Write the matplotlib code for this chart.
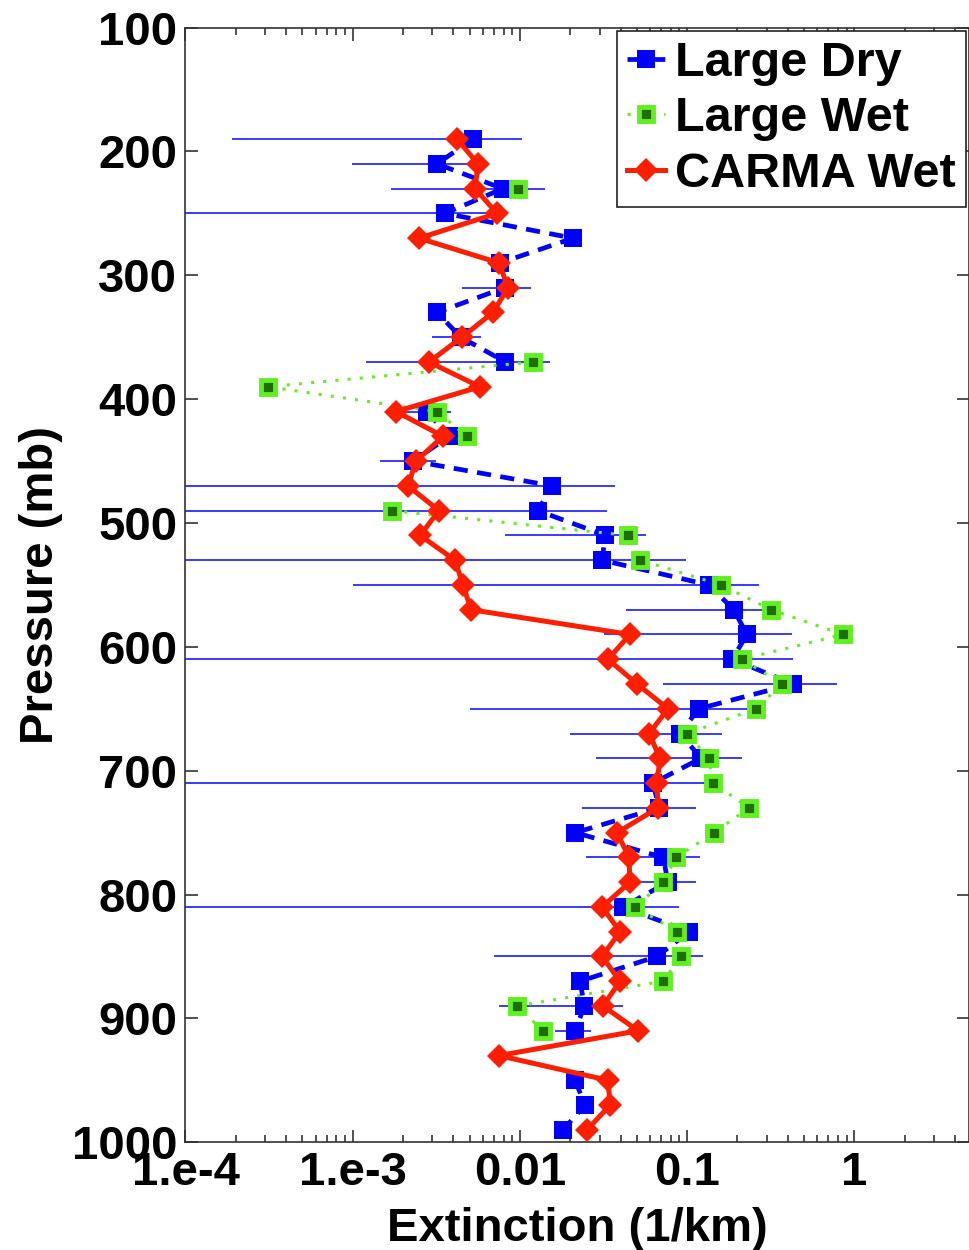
import numpy as np
import matplotlib
matplotlib.use("Agg")
from matplotlib import pyplot as plt

nan = np.nan

# pressure levels (mb)
pressure = [190, 210, 230, 250, 270, 290, 310, 330, 350, 370,
            390, 410, 430, 450, 470, 490, 510, 530, 550, 570,
            590, 610, 630, 650, 670, 690, 710, 730, 750, 770,
            790, 810, 830, 850, 870, 890, 910, 930, 950, 970, 990]

# extinction (1/km)
large_dry = [0.00524, 0.00319, 0.0079, 0.00356, 0.0208, 0.0076, 0.0081, 0.00319, 0.00444, 0.0082,
             nan, 0.00278, 0.00377, 0.0023, 0.0156, 0.0128, 0.0324, 0.031, 0.135, 0.19,
             0.228, 0.186, 0.43, 0.117, 0.091, 0.121, 0.0625, 0.068, 0.0214, 0.072,
             0.0768, 0.0414, 0.1026, 0.066, 0.0229, 0.0243, 0.0214, nan, 0.0214, 0.0245, 0.0181]
large_dry_err = [0.00505, 0.0022, 0.0062, 0.0038, nan, nan, 0.0036, nan, 0.00145, 0.0070,
                 nan, 0.0011, 0.00074, 0.00085, 0.0215, 0.0204, 0.0242, 0.0675, 0.134, 0.147,
                 0.196, 0.244, 0.358, 0.112, 0.071, 0.0925, 0.080, 0.0444, nan, 0.047,
                 0.036, 0.048, nan, 0.059, nan, 0.0168, 0.0052, nan, nan, nan, nan]
large_wet = [nan, nan, 0.00974, nan, nan, nan, nan, nan, nan, 0.0120,
             0.000311, 0.00319, 0.00483, nan, nan, 0.00172, 0.0443, 0.0525, 0.1595, 0.318,
             0.856, 0.213, 0.369, 0.258, 0.0999, 0.135, 0.143, 0.235, 0.145, 0.0858,
             0.0718, 0.0488, 0.087, 0.0919, 0.0718, 0.0096, 0.01375, nan, nan, nan, nan]
carma_wet = [0.0042, 0.00562, 0.00539, 0.0073, 0.00249, 0.0075, 0.00849, 0.0069, 0.0045, 0.00286,
             0.00577, 0.001815, 0.00347, 0.00239, 0.00214, 0.00328, 0.00253, 0.00409, 0.00457, 0.0051,
             0.0455, 0.03365, 0.0502, 0.0769, 0.0592, 0.0689, 0.066, 0.067, 0.0381, 0.0449,
             0.0455, 0.031, 0.0397, 0.031, 0.0397, 0.0314, 0.0509, 0.0075, 0.0337, 0.0346, 0.0252]

x_ticks = [1e-4, 1e-3, 1e-2, 1e-1, 1]
x_ticklabels = ["1.e-4", "1.e-3", "0.01", "0.1", "1"]
y_ticks = list(range(100, 1001, 100))

plt.rcParams['font.family'] = ['Liberation Sans', 'DejaVu Sans']
plt.rcParams['font.weight'] = 'bold'

fig = plt.figure(figsize=(9.69, 12.5), dpi=100)
ax = fig.add_axes([0.1914, 0.0862, 0.8086, 0.8917])

ax.errorbar(large_dry, pressure, xerr=large_dry_err, fmt='none',
            ecolor='#2b2bff', elinewidth=1.3, capsize=0, zorder=1)
ax.plot(large_dry, pressure, color='#0000ff', lw=3.4, linestyle=(0, (3, 2)),
        marker='s', markersize=12.5, markeredgewidth=0, zorder=2, label='Large Dry')
ax.plot(large_wet, pressure, color='#66ee22', lw=2.2, linestyle=(0, (1, 3)),
        marker='s', markersize=9.5, markerfacecolor='#226b08',
        markeredgecolor='#5ff01e', markeredgewidth=3.5, zorder=3, label='Large Wet')
ax.plot(carma_wet, pressure, color='#ff1e00', lw=3.6,
        marker='D', markersize=12.5, markeredgewidth=0, zorder=4, label='CARMA Wet')

ax.set_xscale('log')
ax.set_xlim(1e-4, 4.85)
ax.set_ylim(1000, 100)
ax.set_xticks(x_ticks)
ax.set_xticklabels(x_ticklabels)
ax.set_yticks(y_ticks)

for sp in ax.spines.values():
    sp.set_color('#333333')
    sp.set_linewidth(1.2)

ax.tick_params(which='both', direction='in', top=True, right=True,
               labelsize=34, color='#333333', width=1.2)
ax.tick_params(which='major', length=9, pad=6)
ax.tick_params(which='minor', length=5)
for lbl in ax.get_xticklabels() + ax.get_yticklabels():
    lbl.set_fontweight('bold')

ax.set_xlabel("Extinction (1/km)", fontsize=34, fontweight='bold', labelpad=9)
ax.set_ylabel("Pressure (mb)", fontsize=34, fontweight='bold', labelpad=6)

leg = ax.legend(loc='upper right', fontsize=35, handlelength=0.8,
                handletextpad=0.2, borderpad=0.2, labelspacing=0.22,
                borderaxespad=0.07, fancybox=False, framealpha=1)
leg.get_frame().set_edgecolor('#222222')
leg.get_frame().set_linewidth(1.2)
for t in leg.get_texts():
    t.set_fontweight('bold')

fig.savefig("out.png", dpi=100)
